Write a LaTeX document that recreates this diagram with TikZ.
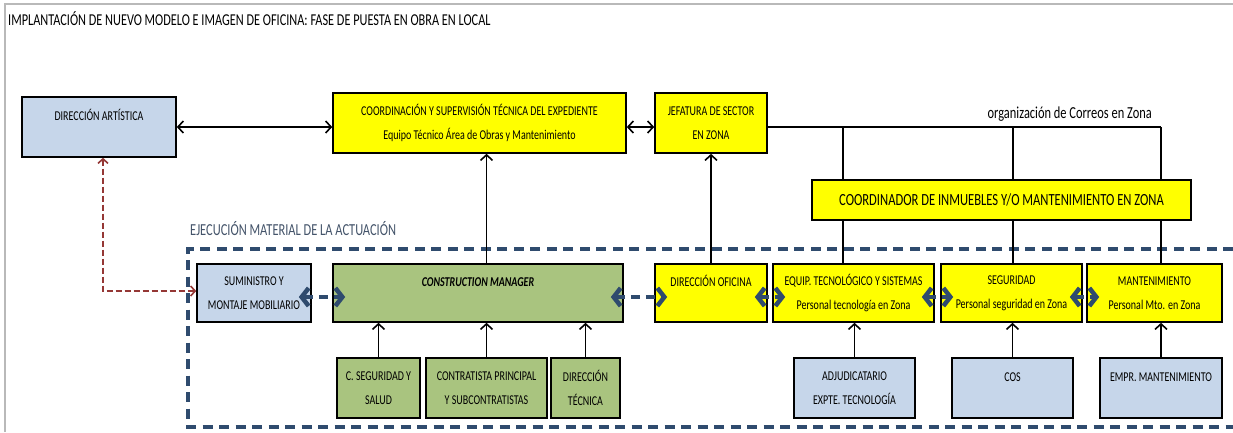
\documentclass[tikz,border=0pt]{standalone}
\usepackage{fontspec}
\setmainfont{Carlito}[FakeStretch=0.74]
\usetikzlibrary{arrows.meta}
\definecolor{boxblue}{HTML}{C6D6EA}
\definecolor{boxgreen}{HTML}{A9C47F}
\definecolor{boxyellow}{HTML}{FFFF00}
\definecolor{frameblue}{HTML}{2F4B6E}
\definecolor{linkred}{HTML}{953735}
\definecolor{captionblue}{HTML}{44546A}
\tikzset{
  box/.style={draw=black, line width=1.6pt, align=center, inner sep=1pt,
    font=\fontsize{13.5}{24}\selectfont},
  oneline/.style={text height=9.5pt, text depth=23pt},
  topbox/.style={box, minimum height=60pt},
  rowbox/.style={box, minimum height=58pt},
  lowbox/.style={box, minimum height=60pt},
  link/.style={line width=1.6pt, -{Straight Barb[length=5.5pt,width=12pt]}},
  twolink/.style={line width=1.6pt, {Straight Barb[length=5.5pt,width=12pt]}-{Straight Barb[length=5.5pt,width=12pt]}},
  plain/.style={line width=1.5pt},
  bluelink/.style={draw=frameblue, line width=4pt, dash pattern=on 9pt off 6pt,
    {Straight Barb[length=7pt,width=18pt,line width=4.5pt]}-{Straight Barb[length=7pt,width=18pt,line width=4.5pt]},
    shorten <=-13pt, shorten >=-13pt},
  redlink/.style={draw=linkred, line width=1.6pt, dash pattern=on 6pt off 3pt,
    {Straight Barb[length=4.5pt,width=10pt]}-{Straight Barb[length=4.5pt,width=10pt]}},
}
\begin{document}
\begin{tikzpicture}[x=1pt, y=-1pt]
  \useasboundingbox (0,0) rectangle (1233,432);
  \fill[white] (0,0) rectangle (1233,432);
  % page edge
  \draw[gray!55, line width=1.5pt] (5,432) -- (5,4) -- (1233,4);

  % title
  \node[anchor=west, inner sep=0pt, font=\fontsize{16.6}{18}\selectfont] (title) at (8,19)
    {IMPLANTACIÓN DE NUEVO MODELO E IMAGEN DE OFICINA: FASE DE PUESTA EN OBRA EN LOCAL};

  % upper level
  \node[topbox, fill=boxblue, oneline, minimum width=154pt] (da) at (99,127) {DIRECCIÓN ARTÍSTICA};
  \node[topbox, fill=boxyellow, minimum width=293pt] (coord) at (479.5,123)
    {COORDINACIÓN Y SUPERVISIÓN TÉCNICA DEL EXPEDIENTE\\Equipo Técnico Área de Obras y Mantenimiento};
  \node[topbox, fill=boxyellow, minimum width=112pt] (jef) at (711,123) {JEFATURA DE SECTOR\\EN ZONA};
  \node[box, fill=boxyellow, minimum width=379pt, minimum height=40pt,
        font=\fontsize{17}{19}\selectfont] (zc) at (1001.5,200)
    {COORDINADOR DE INMUEBLES Y/O MANTENIMIENTO EN ZONA};

  % execution frame
  \node[anchor=west, inner sep=0pt, text=captionblue, font=\fontsize{16.8}{18}\selectfont] (exec) at (190,229)
    {EJECUCIÓN MATERIAL DE LA ACTUACIÓN};
  \coordinate (fr1) at (1233,249);
  \coordinate (fr2) at (188,249);
  \coordinate (fr3) at (188,427);
  \coordinate (fr4) at (1233,427);
  \draw[frameblue, line width=3.5pt, dash pattern=on 10pt off 6.5pt] (fr1) -- (fr2) -- (fr3) -- (fr4);

  % row of agents
  \node[rowbox, fill=boxblue, minimum width=114pt] (sum) at (254,293) {SUMINISTRO Y\\MONTAJE MOBILIARIO};
  \node[rowbox, fill=boxgreen, oneline, minimum width=290pt, font=\fontsize{13.5}{24}\selectfont\bfseries\itshape] (cm) at (478,293)
    {CONSTRUCTION MANAGER};
  \node[rowbox, fill=boxyellow, oneline, minimum width=112pt] (dof) at (711,293) {DIRECCIÓN OFICINA};
  \node[rowbox, fill=boxyellow, minimum width=161pt] (eq) at (853.5,293)
    {EQUIP. TECNOLÓGICO Y SISTEMAS\\Personal tecnología en Zona};
  \node[rowbox, fill=boxyellow, minimum width=141pt] (seg) at (1011.5,293)
    {SEGURIDAD\\Personal seguridad en Zona};
  \node[rowbox, fill=boxyellow, minimum width=135pt] (man) at (1154.5,293)
    {MANTENIMIENTO\\Personal Mto. en Zona};

  % lower level
  \node[lowbox, fill=boxgreen, minimum width=83pt] (cs) at (378.5,388) {C. SEGURIDAD Y\\SALUD};
  \node[lowbox, fill=boxgreen, minimum width=121pt] (ct) at (486.5,388) {CONTRATISTA PRINCIPAL\\Y SUBCONTRATISTAS};
  \node[lowbox, fill=boxgreen, minimum width=69pt] (dt) at (585.5,388) {DIRECCIÓN\\TÉCNICA};
  \node[lowbox, fill=boxblue, minimum width=121pt] (adj) at (854.5,388) {ADJUDICATARIO\\EXPTE. TECNOLOGÍA};
  \node[lowbox, fill=boxblue, oneline, minimum width=121pt] (cos) at (1012.5,388) {COS};
  \node[lowbox, fill=boxblue, oneline, minimum width=122pt] (emp) at (1161,388) {EMPR. MANTENIMIENTO};

  % upper links
  \coordinate (hl) at (0,127);
  \draw[twolink] (da.east |- hl) -- (coord.west |- hl);
  \draw[twolink] (coord.east |- hl) -- (jef.west |- hl);
  \draw[link] (ct.north |- cm.north) -- (ct.north |- coord.south);
  \draw[link] (dof.north) -- (jef.south);

  % zone organisation
  \coordinate (v1) at (843,127);
  \coordinate (v2) at (1013,127);
  \coordinate (v3) at (1161,127);
  \draw[plain] (jef.east |- hl) -- (v3);
  \draw[plain] (v1) -- (v1 |- zc.north);
  \draw[plain] (v2) -- (v2 |- zc.north);
  \draw[plain] (v3) -- (v3 |- zc.north);
  \draw[plain] (v1 |- zc.south) -- (v1 |- eq.north);
  \draw[plain] (v2 |- zc.south) -- (v2 |- seg.north);
  \draw[plain] (v3 |- zc.south) -- (v3 |- man.north);
  \node[anchor=south east, inner sep=0pt, font=\fontsize{16.8}{18}\selectfont] (org) at (1152,122)
    {organización de Correos en Zona};

  % lower links
  \draw[link] (cs.north) -- (cs.north |- cm.south);
  \draw[link] (ct.north) -- (ct.north |- cm.south);
  \draw[link] (dt.north) -- (dt.north |- cm.south);
  \draw[link] (adj.north) -- (adj.north |- eq.south);
  \draw[link] (cos.north) -- (cos.north |- seg.south);
  \draw[link] (emp.north) -- (emp.north |- man.south);

  % dashed exchanges inside the frame
  \coordinate (bl) at (0,297);
  \draw[bluelink] (sum.east |- bl) -- (cm.west |- bl);
  \draw[bluelink] (cm.east |- bl) -- (dof.west |- bl);
  \draw[bluelink] (dof.east |- bl) -- (eq.west |- bl);
  \draw[bluelink] (eq.east |- bl) -- (seg.west |- bl);
  \draw[bluelink] (seg.east |- bl) -- (man.west |- bl);

  % artistic direction to furniture supply
  \coordinate (rc) at (103,291);
  \draw[redlink] (da.south -| rc) -- (rc) -- (sum.west |- rc);
\end{tikzpicture}
\end{document}
